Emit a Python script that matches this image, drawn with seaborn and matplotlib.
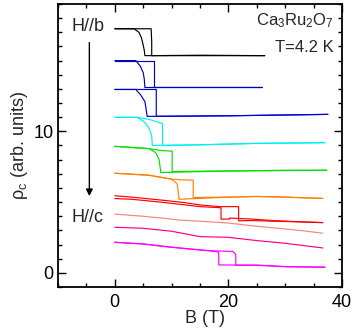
import numpy as np
import pandas as pd
import matplotlib
matplotlib.use("Agg")
import matplotlib.pyplot as plt
from matplotlib.ticker import MultipleLocator
import seaborn as sns

# ---------------- data ----------------
# curve 1 (black)
c1_up_B = [0, 3.0, 6.4, 6.5, 6.5, 15, 26.4]
c1_up_rho = [17.25, 17.25, 17.25, 16.3, 15.35, 15.38, 15.35]
c1_dn_B = [26.4, 5.3, 5.2, 5.0, 4.7, 4.25, 3.4, 0]
c1_dn_rho = [15.35, 15.35, 15.7, 16.1, 16.6, 17.0, 17.25, 17.25]
# curve 2 (blue)
c2_up_B = [0, 6.9, 6.9, 26.0]
c2_up_rho = [15.0, 15.0, 13.1, 13.1]
c2_dn_B = [26.0, 5.3, 5.2, 5.0, 4.5, 3.7, 0]
c2_dn_rho = [13.1, 13.1, 13.66, 14.15, 14.6, 15.0, 15.0]
# curve 3 (blue)
c3_up_B = [0, 7.3, 7.3, 20, 37.5]
c3_up_rho = [12.96, 12.96, 11.06, 11.1, 11.2]
c3_dn_B = [37.5, 20, 5.7, 5.5, 5.3, 4.5, 3.7, 0]
c3_dn_rho = [11.2, 11.1, 11.06, 11.6, 12.1, 12.6, 12.96, 12.96]
# curve 4 (cyan)
c4_up_B = [0, 4.0, 6.0, 7.2, 8.0, 8.4, 8.4, 15, 25, 37.0]
c4_up_rho = [10.99, 10.99, 10.85, 10.7, 10.6, 10.55, 9.0, 9.05, 9.15, 9.2]
c4_dn_B = [37.0, 25, 15, 6.6, 6.5, 6.0, 5.1, 3.9, 0]
c4_dn_rho = [9.2, 9.15, 9.05, 9.0, 9.67, 10.26, 10.7, 10.99, 10.99]
# curve 5 (green)
c5_up_B = [0, 6.0, 8.0, 10.1, 10.1, 20, 30, 37.3]
c5_up_rho = [8.94, 8.78, 8.65, 8.6, 7.16, 7.2, 7.25, 7.25]
c5_dn_B = [37.3, 20, 8.1, 7.8, 7.2, 6.0, 0]
c5_dn_rho = [7.25, 7.2, 7.09, 8.0, 8.5, 8.78, 8.94]
# curve 6 (orange)
c6_up_B = [0, 6, 10, 12, 13.8, 13.8, 20, 25, 30, 36.6]
c6_up_rho = [7.04, 6.9, 6.62, 6.57, 6.55, 5.33, 5.35, 5.4, 5.35, 5.26]
c6_dn_B = [36.6, 30, 25, 20, 11.3, 11.0, 10.4, 10, 6, 0]
c6_dn_rho = [5.26, 5.35, 5.4, 5.35, 5.2, 6.27, 6.5, 6.62, 6.9, 7.04]
# curve 7 (red)
c7_up_B = [0, 3, 8, 12, 15, 18.5, 21.8, 21.8, 24.2, 27.7, 33, 36.6]
c7_up_rho = [5.45, 5.35, 5.15, 4.98, 4.8, 4.68, 4.68, 3.68, 3.7, 3.65, 3.6, 3.55]
c7_dn_B = [36.6, 33, 27.7, 24.2, 20.2, 20.2, 18.7, 18.7, 15, 12, 8, 3, 0]
c7_dn_rho = [3.55, 3.6, 3.7, 3.8, 3.87, 3.8, 3.8, 4.6, 4.68, 4.82, 5.0, 5.2, 5.25]
# curve 8 (salmon)
c8_B = [0, 5, 10, 11.3, 15, 20, 25, 30, 33, 36.6]
c8_rho = [4.15, 4.0, 3.8, 3.73, 3.65, 3.52, 3.29, 3.1, 2.98, 2.8]
# curve 9 (deep pink)
c9_B = [0, 5, 10, 15, 20, 25, 30, 36.6]
c9_rho = [3.22, 3.15, 2.94, 2.56, 2.51, 2.28, 2.09, 1.76]
# curve 10 (magenta)
c10_up_B = [0, 5, 10, 15, 17.5, 20.8, 21.3, 21.3, 25, 30, 37]
c10_up_rho = [2.16, 2.04, 1.81, 1.62, 1.55, 1.52, 1.3, 0.54, 0.54, 0.44, 0.4]
c10_dn_B = [37, 30, 25, 18.3, 18.3, 18.0, 15, 10, 5, 0]
c10_dn_rho = [0.4, 0.44, 0.54, 0.56, 1.4, 1.5, 1.62, 1.81, 2.04, 2.16]

curve_colors = ["#000000", "#0000C0", "#0000D0", "#00F0F0", "#00E000",
                "#FF8000", "#FF0000", "#FF8080", "#FF0080", "#FF00FF"]

branches = [
    (c1_up_B, c1_up_rho, 0), (c1_dn_B, c1_dn_rho, 0),
    (c2_up_B, c2_up_rho, 1), (c2_dn_B, c2_dn_rho, 1),
    (c3_up_B, c3_up_rho, 2), (c3_dn_B, c3_dn_rho, 2),
    (c4_up_B, c4_up_rho, 3), (c4_dn_B, c4_dn_rho, 3),
    (c5_up_B, c5_up_rho, 4), (c5_dn_B, c5_dn_rho, 4),
    (c6_up_B, c6_up_rho, 5), (c6_dn_B, c6_dn_rho, 5),
    (c7_up_B, c7_up_rho, 6), (c7_dn_B, c7_dn_rho, 6),
    (c8_B, c8_rho, 7),
    (c9_B, c9_rho, 8),
    (c10_up_B, c10_up_rho, 9), (c10_dn_B, c10_dn_rho, 9),
]

# ---------------- style ----------------
sns.set_style("ticks")
plt.rcParams["font.family"] = ["Liberation Sans", "DejaVu Sans"]
plt.rcParams["mathtext.fontset"] = "custom"
plt.rcParams["mathtext.rm"] = "Liberation Sans"
plt.rcParams["mathtext.it"] = "Liberation Sans"
plt.rcParams["mathtext.default"] = "regular"

fig = plt.figure(figsize=(3.55, 3.34), dpi=100)
ax = fig.add_axes([58 / 355, 1 - 287 / 334, (342 - 58) / 355, (287 - 4) / 334])

for i, (bx, by, ci) in enumerate(branches):
    df = pd.DataFrame({"B": bx, "rho": by})
    sns.lineplot(data=df, x="B", y="rho", ax=ax, sort=False, estimator=None,
                 color=curve_colors[ci], linewidth=0.85)

ax.set_xlim(-10, 40)
ax.set_ylim(-1, 19)
ax.xaxis.set_major_locator(MultipleLocator(20))
ax.xaxis.set_minor_locator(MultipleLocator(5))
ax.yaxis.set_major_locator(MultipleLocator(10))
ax.yaxis.set_minor_locator(MultipleLocator(1))
ax.tick_params(which="both", direction="in", top=True, right=True,
               labelsize=13, colors="black", width=1.0)
ax.tick_params(which="major", length=6)
ax.tick_params(which="minor", length=3)
ax.tick_params(axis="x", which="major", pad=5)
ax.tick_params(axis="y", which="major", pad=3)
for s in ax.spines.values():
    s.set_visible(True)
    s.set_linewidth(1.3)
    s.set_color("black")

ax.set_xlabel("B (T)", fontsize=13)
ax.set_ylabel(r"$\rho_c$ (arb. units)", fontsize=13)
ax.xaxis.set_label_coords((205 - 58) / 284, -0.08)
ax.yaxis.set_label_coords(-0.10, 0.5)

ax.text(-7.6, 17.43, "H//b", fontsize=13, ha="left", va="center")
ax.text(-7.6, 3.94, "H//c", fontsize=13, ha="left", va="center")
ax.annotate("", xy=(-4.48, 5.42), xytext=(-4.48, 16.27),
            arrowprops=dict(arrowstyle="-|>", color="black", lw=1.0,
                            mutation_scale=10, shrinkA=0, shrinkB=0))
ax.text(38.6, 17.8, r"Ca$_3$Ru$_2$O$_7$", fontsize=12, ha="right", va="center")
ax.text(38.6, 15.9, "T=4.2 K", fontsize=12, ha="right", va="center")

fig.savefig("out.png", dpi=100)
